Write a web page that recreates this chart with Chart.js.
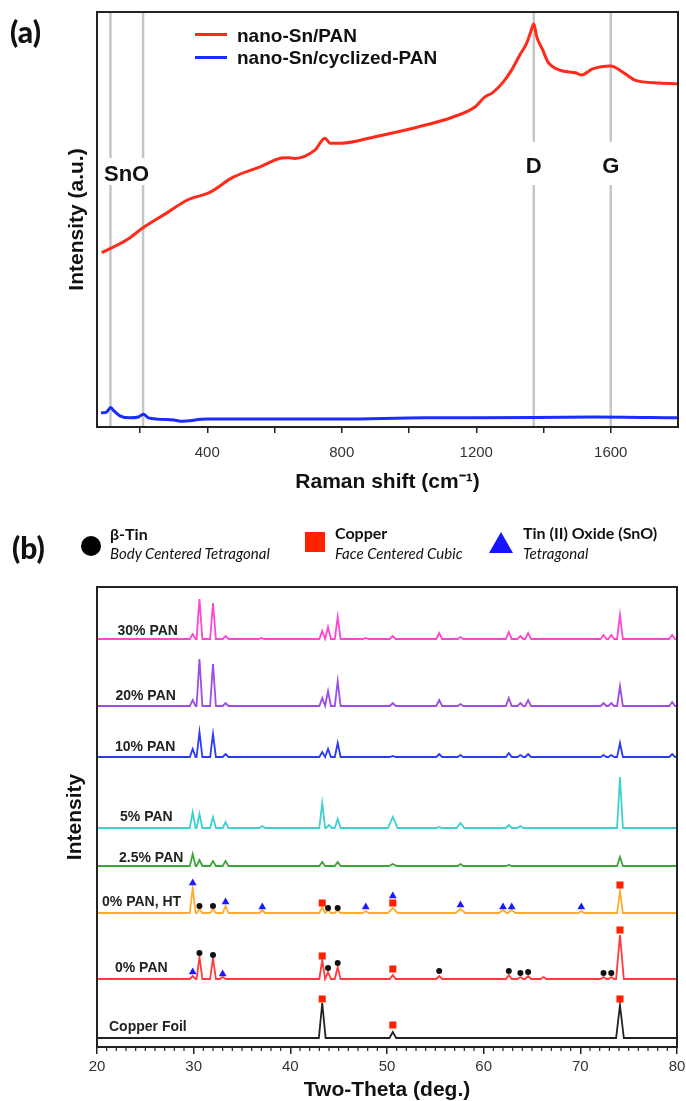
<!DOCTYPE html>
<html>
<head>
<meta charset="utf-8">
<script src="https://cdn.jsdelivr.net/npm/chart.js@4.4.1/dist/chart.umd.min.js"></script>
<style>
  html, body { margin: 0; padding: 0; background: #fff; }
  body { width: 686px; height: 1101px; position: relative; overflow: hidden; font-family: "Liberation Sans", Arial, sans-serif; color: #111; }
  #wrapA { position: absolute; left: 0; top: 0; width: 686px; height: 500px; }
  #wrapB { position: absolute; left: 0; top: 560px; width: 686px; height: 541px; }
  .t { position: absolute; white-space: nowrap; line-height: 1; transform: translateY(-50%); }
  .panel { font-family: Lato, "Open Sans", sans-serif; font-weight: 900; font-size: 30px; }
  .key { font-weight: bold; font-size: 19px; }
  .swatch { position: absolute; width: 32px; height: 3px; }
  .name { font-family: Lato, "Open Sans", sans-serif; font-weight: bold; font-size: 16px; }
  .desc { font-family: Lato, "Open Sans", sans-serif; font-style: italic; font-size: 15px; }
</style>
</head>
<body>
<div id="wrapA"><canvas id="raman"></canvas></div>
<div id="wrapB"><canvas id="xrd"></canvas></div>

<!-- panel (a) labels + legend -->
<div class="t panel" style="left:10px; top:31px;">(a)</div>
<div class="swatch" style="left:195px; top:33px; background:#ff2a1a;"></div>
<div class="t key" style="left:237px; top:35px;">nano-Sn/PAN</div>
<div class="swatch" style="left:195px; top:56px; background:#1a2cff;"></div>
<div class="t key" style="left:237px; top:57px;">nano-Sn/cyclized-PAN</div>

<!-- panel (b) labels + phase key -->
<div class="t panel" style="left:12px; top:547px;">(b)</div>
<div style="position:absolute; left:81px; top:536px; width:20px; height:20px; border-radius:50%; background:#000;"></div>
<div class="t name" style="left:110px; top:534px;">β-Tin</div>
<div class="t desc" style="left:110px; top:553px;">Body Centered Tetragonal</div>
<div style="position:absolute; left:305px; top:532px; width:20px; height:20px; background:#ff2200;"></div>
<div class="t name" style="left:335px; top:533px;">Copper</div>
<div class="t desc" style="left:335px; top:553px;">Face Centered Cubic</div>
<div style="position:absolute; left:489px; top:532px; width:0; height:0; border-left:12px solid transparent; border-right:12px solid transparent; border-bottom:21px solid #1515ff;"></div>
<div class="t name" style="left:523px; top:533px;">Tin (II) Oxide (SnO)</div>
<div class="t desc" style="left:523px; top:553px;">Tetragonal</div>

<script>
// ---------- (a) Raman ----------
const snPanRaman = [[86, 42.0], [161, 45.1], [209, 48.0], [280, 51.6], [341, 54.7], [409, 56.6], [477, 60.2],
  [557, 62.7], [620, 64.8], [640, 64.9], [660, 64.7], [720, 66.7], [750, 69.6], [765, 68.4], [800, 68.4], [896, 69.9],
  [1027, 72.3], [1131, 74.7], [1196, 77.1], [1225, 79.5], [1248, 80.5], [1280, 83.1], [1305, 86.0],
  [1330, 89.7], [1350, 92.5], [1362, 95.2], [1371, 97.1], [1380, 94.0], [1398, 90.8], [1413, 88.0],
  [1448, 86.0], [1498, 85.3], [1513, 84.8], [1546, 86.3], [1600, 87.0], [1636, 85.5], [1672, 83.6],
  [1746, 82.9], [1797, 82.7]];
const snCycRaman = [[84, 3.4], [100, 3.6], [113, 4.7], [122, 3.9], [140, 2.7], [170, 2.2], [195, 2.4],
  [210, 3.1], [225, 2.2], [300, 1.7], [320, 1.4], [400, 1.9], [800, 1.9], [1050, 2.2], [1200, 2.2],
  [1550, 2.4], [1800, 2.2]];
const ramanTicks = [200, 400, 600, 800, 1000, 1200, 1400, 1600];
const ramanTickLabels = [400, 800, 1200, 1600];
const bandLines = [112, 209, 1371, 1600];
const bandLabels = [
  { text: 'SnO', x: 160, y: 60.7, gapTop: 64.8, gapBottom: 58.3, lines: [112, 209] },
  { text: 'D', x: 1371, y: 62.7, gapTop: 68.7, gapBottom: 58.3, lines: [1371] },
  { text: 'G', x: 1600, y: 62.7, gapTop: 68.7, gapBottom: 58.3, lines: [1600] }
];

// ---------- (b) XRD ----------
// each trace: baseline level + [2-theta, peak top (, half width)]
const pan30Base = 408;
const pan30Peaks = [[29.9, 413], [30.6, 448], [32.0, 444], [33.3, 411], [37.0, 409], [43.3, 416], [43.9, 420],
  [44.9, 430], [47.8, 409], [50.6, 411], [55.4, 414], [57.6, 410], [62.6, 415], [63.8, 411], [64.6, 414],
  [72.4, 412], [73.2, 412], [74.1, 432], [79.5, 412]];
const pan20Base = 341;
const pan20Peaks = [[29.9, 347], [30.6, 388], [32.0, 383], [33.3, 344], [43.3, 349], [43.9, 356], [44.9, 366],
  [50.6, 344], [55.4, 347], [57.6, 343], [62.6, 349], [63.8, 344], [64.6, 347], [72.4, 344], [73.2, 344],
  [74.1, 361], [79.5, 345]];
const pan10Base = 290;
const pan10Peaks = [[29.9, 298], [30.6, 315], [32.0, 313], [33.3, 293], [43.3, 295], [43.9, 298], [44.9, 304],
  [50.6, 291], [55.4, 293], [57.6, 292], [62.6, 294], [63.8, 292], [64.6, 293], [72.4, 292], [73.2, 292],
  [74.1, 304], [79.5, 293]];
const pan5Base = 219;
const pan5Peaks = [[29.9, 235], [30.6, 233], [32.0, 230], [33.3, 225], [37.1, 221], [43.3, 244], [44.0, 222],
  [44.9, 228], [50.6, 230, 0.5], [55.4, 220], [57.6, 224, 0.4], [62.6, 222], [63.8, 221], [74.1, 270]];
const pan25Base = 181;
const pan25Peaks = [[29.9, 193], [30.6, 187], [32.0, 186], [33.3, 186], [43.3, 185], [44.9, 185], [50.6, 183, 0.4],
  [57.6, 183], [62.6, 182], [74.1, 190]];
const panHTBase = 134;
const panHTPeaks = [[29.9, 159], [30.6, 138], [32.0, 138], [33.3, 141], [37.1, 137], [43.3, 140], [43.9, 137],
  [44.9, 137], [47.8, 136], [50.6, 139, 0.5], [57.6, 138, 0.5], [62.0, 137, 0.4], [62.9, 137, 0.4], [70.1, 136],
  [74.1, 156]];
const pan0Base = 68;
const pan0Peaks = [[29.9, 71], [30.6, 90], [32.0, 89], [33.0, 70], [43.3, 87], [43.9, 75], [44.9, 80], [50.6, 72],
  [55.4, 71], [62.6, 72], [63.8, 70], [64.6, 71], [66.2, 70], [72.4, 70], [73.2, 70], [74.1, 112, 0.4]];
const copperBase = 9;
const copperPeaks = [[43.3, 44, 0.35], [50.6, 15, 0.35], [74.1, 42, 0.4]];

const tinMarks = [[30.6, 141], [32.0, 141], [43.9, 139], [44.9, 139],
  [30.6, 94], [32.0, 92], [43.9, 79], [44.9, 84], [55.4, 76], [62.6, 76], [63.8, 74], [64.6, 75], [72.4, 74], [73.2, 74]];
const copperMarks = [[43.3, 144], [50.6, 144], [74.1, 162], [43.3, 91], [50.6, 78], [74.1, 117],
  [43.3, 48], [50.6, 22], [74.1, 48]];
const snoMarks = [[29.9, 164], [33.3, 145], [37.1, 140], [47.8, 140], [50.6, 151], [57.6, 142], [62.0, 140],
  [62.9, 140], [70.1, 140], [29.9, 75], [33.0, 73]];

const traceNames = ['30% PAN', '20% PAN', '10% PAN', '5% PAN', '2.5% PAN', '0% PAN, HT', '0% PAN', 'Copper Foil'];
const traceColors = ['#ff45d2', '#9b4de6', '#2b3af5', '#3fd1d1', '#3aa63a', '#ffac2e', '#ff3b3b', '#222222'];
const traceLabelAt = [[22.12, 416], [21.91, 351], [21.86, 300], [22.38, 230], [22.28, 189], [20.52, 145], [21.86, 79], [21.24, 20]];

const peakHalfWidth = 0.3;
function peakLine(base, peaks) {
  const pts = [[20, base]];
  peaks.forEach(([pos, top, hw = peakHalfWidth]) => {
    pts.push([pos - hw, base], [pos, top], [pos + hw, base]);
  });
  pts.push([80, base]);
  return pts;
}

const traces = [
  peakLine(pan30Base, pan30Peaks), peakLine(pan20Base, pan20Peaks), peakLine(pan10Base, pan10Peaks),
  peakLine(pan5Base, pan5Peaks), peakLine(pan25Base, pan25Peaks), peakLine(panHTBase, panHTPeaks),
  peakLine(pan0Base, pan0Peaks), peakLine(copperBase, copperPeaks)
];

// frame around plot area
const boxPlugin = {
  id: 'box',
  afterDraw(chart) {
    const { ctx, chartArea: a } = chart;
    ctx.save();
    ctx.strokeStyle = '#222';
    ctx.lineWidth = 2;
    ctx.strokeRect(a.left, a.top, a.right - a.left, a.bottom - a.top);
    ctx.restore();
  }
};

// grey band lines + SnO / D / G
const bandPlugin = {
  id: 'bands',
  beforeDatasetsDraw(chart) {
    const { ctx, chartArea: a, scales: { x, y } } = chart;
    ctx.save();
    ctx.strokeStyle = '#c6c6c6';
    ctx.lineWidth = 2.5;
    bandLines.forEach(v => {
      const px = x.getPixelForValue(v);
      ctx.beginPath(); ctx.moveTo(px, a.top); ctx.lineTo(px, a.bottom); ctx.stroke();
    });
    bandLabels.forEach(l => {
      ctx.fillStyle = '#fff';
      l.lines.forEach(v => {
        const px = x.getPixelForValue(v);
        const t = y.getPixelForValue(l.gapTop), b = y.getPixelForValue(l.gapBottom);
        ctx.fillRect(px - 3, t, 6, b - t);
      });
      ctx.fillStyle = '#111';
      ctx.font = 'bold 22px "Liberation Sans", Arial, sans-serif';
      ctx.textAlign = 'center';
      ctx.textBaseline = 'middle';
      ctx.fillText(l.text, x.getPixelForValue(l.x), y.getPixelForValue(l.y));
    });
    ctx.restore();
  }
};

// minor ticks + trace names for xrd
const xrdPlugin = {
  id: 'xrdExtras',
  afterDraw(chart) {
    const { ctx, chartArea: a, scales: { x, y } } = chart;
    ctx.save();
    ctx.strokeStyle = '#222';
    ctx.lineWidth = 1.2;
    for (let v = 21; v < 80; v++) {
      if (v % 10 === 0) continue;
      const px = x.getPixelForValue(v);
      ctx.beginPath(); ctx.moveTo(px, a.bottom); ctx.lineTo(px, a.bottom + 4); ctx.stroke();
    }
    ctx.fillStyle = '#222';
    ctx.font = 'bold 14px "Liberation Sans", Arial, sans-serif';
    ctx.textAlign = 'left';
    ctx.textBaseline = 'middle';
    traceNames.forEach((n, i) => {
      ctx.fillText(n, x.getPixelForValue(traceLabelAt[i][0]), y.getPixelForValue(traceLabelAt[i][1]));
    });
    ctx.restore();
  }
};

Chart.defaults.font.family = '"Liberation Sans", Arial, sans-serif';

new Chart(document.getElementById('raman'), {
  type: 'line',
  data: {
    datasets: [
      { label: 'nano-Sn/PAN', data: snPanRaman, borderColor: '#ff2a1a', borderWidth: 3, pointRadius: 0, cubicInterpolationMode: 'monotone' },
      { label: 'nano-Sn/cyclized-PAN', data: snCycRaman, borderColor: '#1a2cff', borderWidth: 3, pointRadius: 0, cubicInterpolationMode: 'monotone' }
    ]
  },
  options: {
    animation: false,
    responsive: true,
    maintainAspectRatio: false,
    layout: { padding: { left: 0, right: 8, top: 12, bottom: 0 } },
    plugins: { legend: { display: false }, tooltip: { enabled: false } },
    scales: {
      x: {
        type: 'linear', min: 72, max: 1800,
        afterBuildTicks: s => { s.ticks = ramanTicks.map(v => ({ value: v })); },
        afterFit: s => { s.height = 73; s.paddingLeft = 0; s.paddingRight = 0; },
        grid: { drawOnChartArea: false, drawTicks: true, tickLength: 6, color: '#222', lineWidth: 1.5 },
        border: { display: false },
        ticks: { autoSkip: false, maxRotation: 0, padding: 11, color: '#333', font: { size: 15 },
          callback: v => ramanTickLabels.includes(v) ? String(v) : '' },
        title: { display: true, text: 'Raman shift (cm⁻¹)', color: '#111', font: { size: 21, weight: 'bold', lineHeight: 1.2 },
          padding: { top: 0, bottom: 5 } }
      },
      y: {
        min: 0, max: 100,
        afterFit: s => { s.width = 97; },
        ticks: { display: false }, grid: { display: false }, border: { display: false },
        title: { display: true, text: 'Intensity (a.u.)', color: '#111', font: { size: 21, weight: 'bold', lineHeight: 1.2 },
          padding: { top: 65, bottom: 0 } }
      }
    }
  },
  plugins: [bandPlugin, boxPlugin]
});

const xrdSets = traces.map((d, i) => ({
  label: traceNames[i], data: d, borderColor: traceColors[i], borderWidth: 1.8, pointRadius: 0, tension: 0, order: 2
}));
xrdSets.push(
  { label: 'β-Tin', data: tinMarks, showLine: false, pointStyle: 'circle', pointRadius: 3, backgroundColor: '#111', borderWidth: 0, order: 0 },
  { label: 'Copper', data: copperMarks, showLine: false, pointStyle: 'rect', pointRadius: 5, backgroundColor: '#ff2200', borderWidth: 0, order: 0 },
  { label: 'Tin (II) Oxide (SnO)', data: snoMarks, showLine: false, pointStyle: 'triangle', pointRadius: 4.5, backgroundColor: '#1a1aff', borderWidth: 0, order: 0 }
);

new Chart(document.getElementById('xrd'), {
  type: 'line',
  data: { datasets: xrdSets },
  options: {
    animation: false,
    responsive: true,
    maintainAspectRatio: false,
    layout: { padding: { left: 0, right: 9, top: 27, bottom: 0 } },
    plugins: { legend: { display: false }, tooltip: { enabled: false } },
    scales: {
      x: {
        type: 'linear', min: 20, max: 80,
        afterFit: s => { s.height = 54; s.paddingLeft = 0; s.paddingRight = 0; },
        grid: { drawOnChartArea: false, drawTicks: true, tickLength: 7, color: '#222', lineWidth: 1.5 },
        border: { display: false },
        ticks: { stepSize: 10, autoSkip: false, maxRotation: 0, padding: 4, color: '#333', font: { size: 15 } },
        title: { display: true, text: 'Two-Theta (deg.)', color: '#111', font: { size: 21, weight: 'bold', lineHeight: 1 },
          padding: { top: 0, bottom: 0 } }
      },
      y: {
        min: 0, max: 460,
        afterFit: s => { s.width = 97; },
        ticks: { display: false }, grid: { display: false }, border: { display: false },
        title: { display: true, text: 'Intensity', color: '#111', font: { size: 21, weight: 'bold', lineHeight: 1.2 },
          padding: { top: 63, bottom: 0 } }
      }
    }
  },
  plugins: [xrdPlugin, boxPlugin]
});
</script>
</body>
</html>
